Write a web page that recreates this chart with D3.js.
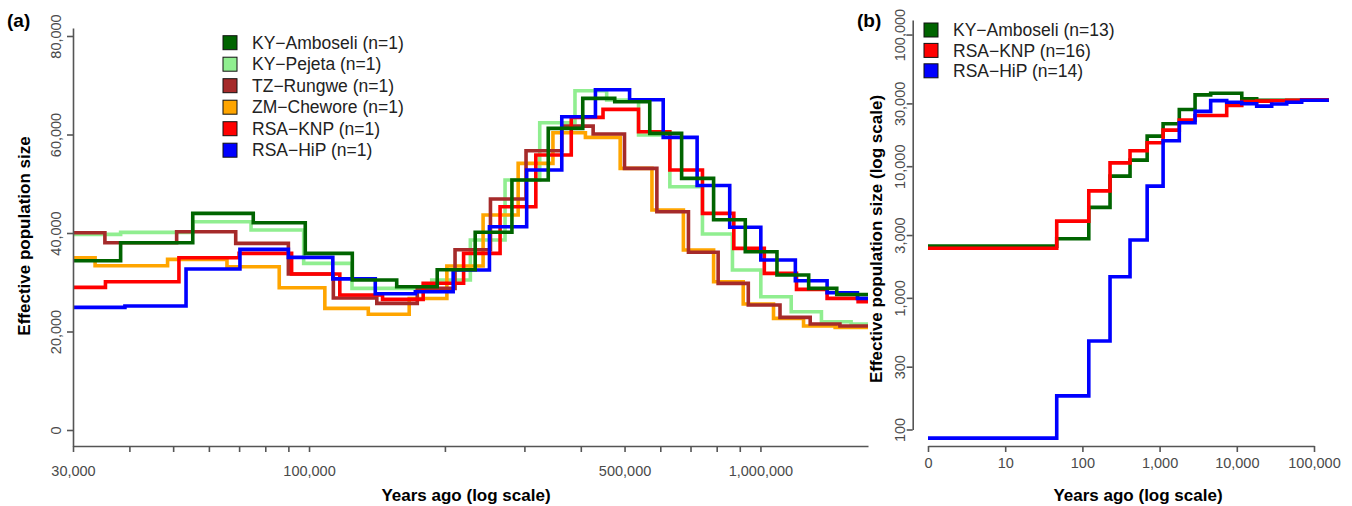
<!DOCTYPE html>
<html>
<head>
<meta charset="utf-8">
<script src="https://cdnjs.cloudflare.com/ajax/libs/d3/7.8.5/d3.min.js"></script>
<style>
body { margin: 0; background: #fff; }
text { font-family: "Liberation Sans", Arial, sans-serif; }
</style>
</head>
<body>
<div class="container"></div>
<script>
const wd = 1352
const ht = 506

// panel (a): years ago (step starts) and Ne per step, one array pair per sample
const tAmb = [30000, 38250, 55260, 75240, 98100, 124700, 156400, 192300, 233400, 281500, 338800, 404000, 475600, 568600, 669000, 787500, 925600, 1088000, 1279000, 1476000, 1731000]
const nAmb = [34370, 38020, 43990, 42080, 35870, 30450, 29090, 32550, 40160, 50750, 61240, 67330, 66650, 60230, 51090, 42700, 36200, 31470, 28760, 27500]
const tPej = [30000, 38250, 55260, 74400, 97300, 124500, 187000, 227700, 271800, 324400, 388300, 456400, 537000, 630000, 744000, 867000, 1002000, 1170000, 1365000, 1588000, 1731000]
const nPej = [39720, 40130, 42290, 40600, 33840, 28760, 30450, 38570, 50750, 62380, 68880, 67000, 59890, 49390, 39790, 32480, 27060, 24020, 21990, 21520]
const tRun = [30000, 35300, 50900, 68800, 90000, 113200, 141300, 173700, 210600, 252300, 302500, 363000, 426000, 499900, 589600, 692700, 806000, 940000, 1105000, 1289000, 1500000, 1731000]
const nRun = [40060, 38020, 40260, 37900, 31670, 26800, 25720, 28760, 36600, 46900, 56700, 61710, 60090, 53120, 44310, 36100, 29780, 25380, 22870, 21520, 21110]
const tChe = [30000, 33580, 48600, 65800, 85900, 108400, 135300, 166700, 202000, 243000, 290600, 347000, 409500, 489000, 575000, 675000, 787500, 916000, 1069000, 1246000, 1464000, 1731000]
const nChe = [34980, 33360, 34650, 33150, 28890, 24700, 23500, 26700, 33290, 43640, 54140, 60350, 59420, 53120, 44660, 36540, 30110, 25580, 22670, 21110, 20840]
const tKnp = [30000, 35400, 51500, 70000, 91500, 117000, 145500, 179000, 220000, 265000, 318000, 381000, 448000, 537000, 630000, 744000, 873000, 1020000, 1202000, 1405000, 1646000, 1731000]
const nKnp = [28960, 30110, 34980, 35870, 31670, 27400, 26530, 29800, 35870, 45330, 55830, 63480, 65100, 60560, 52780, 43990, 36880, 31810, 28560, 26730, 26050]
const tHip = [30000, 39100, 53400, 70300, 90000, 112900, 140200, 172000, 208600, 251000, 303500, 363000, 431000, 513000, 609000, 724000, 855000, 1002000, 1195000, 1405000, 1640000, 1731000]
const nHip = [24900, 25170, 32680, 36680, 35060, 30690, 27650, 28070, 32480, 41270, 52780, 63600, 69090, 67060, 59420, 49630, 41170, 34510, 30310, 27870, 26730]

// panel (b): shared step starts (0 years drawn at 1)
const tB = [1, 46.5, 121, 228, 414, 690, 1110, 1800, 2880, 4590, 7400, 11600, 18100, 28300, 44300, 69200, 156000]
const nAmbB = [2470, 2810, 4870, 8410, 11130, 16930, 20990, 26990, 34840, 35800, 35800, 32500, 31700, 31700, 31700, 31700]
const nKnpB = [2380, 3830, 6500, 10600, 13090, 15060, 18800, 22390, 24300, 24300, 29000, 31000, 31200, 31400, 31600, 32000]
const nHipB = [86, 180, 470, 1446, 2748, 7063, 15600, 21380, 26080, 31500, 30600, 29800, 28600, 29700, 30600, 31700]

const labelsA = ["KY\u2212Amboseli (n=1)", "KY\u2212Pejeta (n=1)", "TZ\u2212Rungwe (n=1)", "ZM\u2212Chewore (n=1)", "RSA\u2212KNP (n=1)", "RSA\u2212HiP (n=1)"]
const labelsB = ["KY\u2212Amboseli (n=13)", "RSA\u2212KNP (n=16)", "RSA\u2212HiP (n=14)"]

const xTicksA = [30000, 40000, 50000, 60000, 70000, 80000, 90000, 100000, 200000, 300000, 400000, 500000, 600000, 700000, 800000, 900000, 1000000]
const xLabA = [30000, 100000, 500000, 1000000]
const yTicksA = [0, 20000, 40000, 60000, 80000]
const xTicksB = [1, 10, 100, 1000, 10000, 100000]
const yTicksB = [100, 300, 1000, 3000, 10000, 30000, 100000]

const col = {amb: "#006400", pej: "#90ee90", run: "#a52a2a", che: "#ffa500", knp: "#ff0000", hip: "#0000ff"}

const svg = d3.select(".container")
.append("svg")
.attr("width", wd)
.attr("height", ht)

const fmt = d3.format(",")
const tickCol = "#4a4a4a"

// ---- panel (a)
const xA = d3.scaleLog().domain([30000, 1731000]).range([73, 868])
const yA = d3.scaleLinear().domain([-3249, 81624]).range([446, 28])

const lineA = d3.line()
.x((d)=> xA(d[0]))
.y((d)=> yA(d[1]))
.curve(d3.curveStepAfter)

const steps = (t, n) => {
  let pts = n.map((v, i) => [t[i], v])
  pts.push([t[t.length - 1], n[n.length - 1]])
  return pts
}

const seriesA = [
  {t: tPej, n: nPej, c: col.pej},
  {t: tChe, n: nChe, c: col.che},
  {t: tRun, n: nRun, c: col.run},
  {t: tKnp, n: nKnp, c: col.knp},
  {t: tHip, n: nHip, c: col.hip},
  {t: tAmb, n: nAmb, c: col.amb}
]

const gA = svg.append("g")
seriesA.forEach(s => {
  gA.append("path")
  .attr("d", lineA(steps(s.t, s.n)))
  .attr("fill", "none")
  .attr("stroke", s.c)
  .attr("stroke-width", 3.6)
})

const axA = svg.append("g")
.attr("transform", "translate(0,446)")
.call(d3.axisBottom(xA).tickValues(xTicksA).tickSize(6).tickSizeOuter(0)
  .tickFormat(d => xLabA.includes(d) ? fmt(d) : ""))
axA.selectAll("text").attr("y", 30).attr("dy", 0).style("font-size", "14.5px").attr("fill", tickCol)

const ayA = svg.append("g")
.attr("transform", "translate(73,0)")
.call(d3.axisLeft(yA).tickValues(yTicksA).tickSize(6).tickSizeOuter(0).tickFormat(fmt))
ayA.selectAll("text")
.attr("transform", "rotate(-90)")
.attr("x", 0).attr("y", -12).attr("dy", 0)
.attr("text-anchor", "middle")
.style("font-size", "14.5px").attr("fill", tickCol)

svg.selectAll(".domain, .tick line").attr("stroke", "#555").attr("stroke-width", 1.6)

// legend (a)
const legColsA = [col.amb, col.pej, col.run, col.che, col.knp, col.hip]
const legA = svg.append("g")
labelsA.forEach((l, i) => {
  let y = 42.7 + i * 21.5
  legA.append("rect").attr("x", 223).attr("y", y - 7).attr("width", 14).attr("height", 14)
  .attr("fill", legColsA[i]).attr("stroke", "#111").attr("stroke-width", 1)
  legA.append("text").attr("x", 252).attr("y", y + 6.2).text(l)
  .style("font-size", "17.5px").attr("fill", "#222")
})

svg.append("text").attr("x", 7).attr("y", 27).text("(a)")
.style("font-size", "19px").style("font-weight", "bold")
svg.append("text").attr("transform", "translate(30,236) rotate(-90)")
.attr("text-anchor", "middle").text("Effective population size")
.style("font-size", "17px").style("font-weight", "bold")
svg.append("text").attr("x", 466).attr("y", 501).attr("text-anchor", "middle")
.text("Years ago (log scale)").style("font-size", "17px").style("font-weight", "bold")

// ---- panel (b)
const xB = d3.scaleLog().domain([1, 100000]).range([928, 1314])
const yB = d3.scaleLog().domain([100, 129000]).range([429.5, 20])

const lineB = d3.line()
.x((d)=> xB(d[0]))
.y((d)=> yB(d[1]))
.curve(d3.curveStepAfter)

const seriesB = [
  {n: nAmbB, c: col.amb},
  {n: nKnpB, c: col.knp},
  {n: nHipB, c: col.hip}
]
const gB = svg.append("g")
seriesB.forEach(s => {
  gB.append("path")
  .attr("d", lineB(steps(tB, s.n)))
  .attr("fill", "none")
  .attr("stroke", s.c)
  .attr("stroke-width", 3.6)
})

const axB = svg.append("g")
.attr("transform", "translate(0,446)")
.call(d3.axisBottom(xB).tickValues(xTicksB).tickSize(6).tickSizeOuter(0)
  .tickFormat(d => d === 1 ? "0" : fmt(d)))
axB.selectAll("text").attr("y", 22).attr("dy", 0).style("font-size", "14.5px").attr("fill", tickCol)

const ayB = svg.append("g")
.attr("transform", "translate(912.7,0)")
.call(d3.axisLeft(yB).tickValues(yTicksB).tickSize(6).tickSizeOuter(0).tickFormat(fmt))
ayB.selectAll("text")
.attr("transform", "rotate(-90)")
.attr("x", 0).attr("y", -8).attr("dy", 0)
.attr("text-anchor", "middle")
.style("font-size", "14.5px").attr("fill", tickCol)

svg.selectAll(".domain, .tick line").attr("stroke", "#555").attr("stroke-width", 1.6)

const legColsB = [col.amb, col.knp, col.hip]
const legB = svg.append("g")
labelsB.forEach((l, i) => {
  let y = 30 + i * 20.4
  legB.append("rect").attr("x", 924).attr("y", y - 7).attr("width", 14).attr("height", 14)
  .attr("fill", legColsB[i]).attr("stroke", "#111").attr("stroke-width", 1)
  legB.append("text").attr("x", 953).attr("y", y + 6.2).text(l)
  .style("font-size", "17.5px").attr("fill", "#222")
})

svg.append("text").attr("x", 857).attr("y", 27).text("(b)")
.style("font-size", "19px").style("font-weight", "bold")
svg.append("text").attr("transform", "translate(882,239) rotate(-90)")
.attr("text-anchor", "middle").text("Effective population size (log scale)")
.style("font-size", "17px").style("font-weight", "bold")
svg.append("text").attr("x", 1138).attr("y", 501).attr("text-anchor", "middle")
.text("Years ago (log scale)").style("font-size", "17px").style("font-weight", "bold")
</script>
</body>
</html>
